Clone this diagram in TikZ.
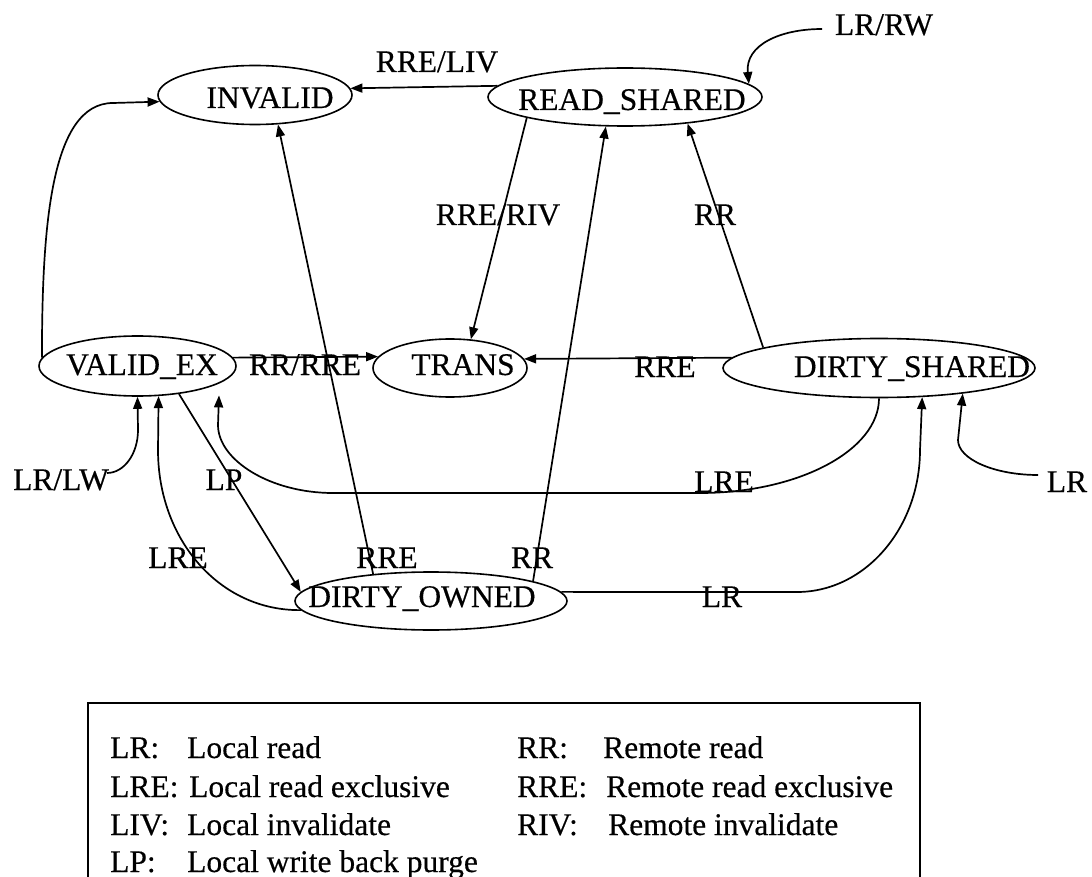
\documentclass[tikz,border=0pt]{standalone}
\usepackage{fontspec}
\setmainfont{Liberation Serif}[FakeBold=0.4]
\usetikzlibrary{shapes.geometric,arrows.meta}
\begin{document}
\begin{tikzpicture}[x=1pt,y=-1pt,
  state/.style={draw, ellipse, line width=1.6pt, inner sep=0pt},
  txt/.style={inner sep=0pt, anchor=base, font=\fontsize{31.5}{38}\selectfont},
  lgd/.style={inner sep=0pt, anchor=base west, font=\fontsize{31.5}{38}\selectfont},
  edge/.style={line width=1.7pt, -{Triangle[length=12pt,width=9pt]}},
]
\useasboundingbox (0,0) rectangle (1092,877);
\fill[white] (0,0) rectangle (1092,877);

% states
\node[state, minimum width=194pt, minimum height=59pt] (inv) at (255,95) {};
\node[state, minimum width=274pt, minimum height=58pt] (rs)  at (625,97) {};
\node[state, minimum width=197pt, minimum height=60pt] (ve)  at (137.5,366) {};
\node[state, minimum width=154pt, minimum height=58pt] (tr)  at (450,368) {};
\node[state, minimum width=312pt, minimum height=59pt] (ds)  at (879,368) {};
\node[state, minimum width=272pt, minimum height=58pt] (dow) at (431,601) {};

\node[txt] (invt) at (270,108) {INVALID};
\node[txt] (rst)  at (632,110) {READ\_SHARED};
\node[txt] (vet)  at (142,375) {VALID\_EX};
\node[txt] (trt)  at (463,375) {TRANS};
\node[txt] (dst)  at (912,377) {DIRTY\_SHARED};
\node[txt] (dowt) at (422,607) {DIRTY\_OWNED};

% transition labels
\node[txt] (l1)  at (437,72)   {RRE/LIV};
\node[txt] (l2)  at (884,35)   {LR/RW};
\node[txt] (l3)  at (305,375)  {RR/RRE};
\node[txt] (l4)  at (665,377)  {RRE};
\node[txt] (l5)  at (498,225)  {RRE/RIV};
\node[txt] (l6)  at (715,225)  {RR};
\node[txt] (l7)  at (61,490)   {LR/LW};
\node[txt] (l8)  at (224,490)  {LP};
\node[txt] (l9)  at (178,568)  {LRE};
\node[txt] (l10) at (387,568)  {RRE};
\node[txt] (l11) at (532,568)  {RR};
\node[txt] (l12) at (724,492)  {LRE};
\node[txt] (l13) at (722,607)  {LR};
\node[txt] (l14) at (1067,492) {LR};

% free ends of the external transitions
\coordinate (rwfoot) at (822,29);
\coordinate (lwfoot) at (107,473);
\coordinate (lrfoot) at (1038,475);

% transitions
\draw[edge] (rs.175.6) -- (inv.4.9);
\draw[edge] (rwfoot) .. controls (780,29) and (745,45) .. (rs.6.7);
\draw[edge] (ve.175.6) .. controls (42,230) and (50,103) .. (113,103) -- (inv.184.9);
\draw[edge] (ve.5.5) -- (tr.171.2);
\draw[edge] (ds.176.5) -- (tr.7);
\draw[edge] (rs.192.4) -- (tr.54.5);
\draw[edge] (dow.155.7) -- (inv.-52.5);
\draw[edge] (dow.11.8) -- (rs.-123.5);
\draw[edge] (ds.170.4) -- (rs.-23.5);
\draw[edge] (ve.-34) -- (dow.176.6);
\draw[edge] (lwfoot) .. controls (124,473) and (138,454) .. (138,430) -- (ve.south);
\draw[edge] (dow.184.5) .. controls (219,611) and (158,539) .. (158,450) -- (ve.-55);
\draw[edge, shorten >=12pt] (ds.-90) .. controls (879,450) and (799,493) .. (700,493)
  -- (333,493) .. controls (270,493) and (218,460) .. (218,425) -- (ve.-12.1);
\draw[edge] (dow.4) -- (797,592) .. controls (865,592) and (920,528) .. (920,450) -- (ds.-34.8);
\draw[edge] (lrfoot) .. controls (994,475) and (958,459) .. (958,440) -- (ds.-17.8);

% legend
\draw[line width=1.5pt] (88,885) -- (88,703) -- (920,703) -- (920,885);
\node[lgd] (k1) at (110,758) {LR:};
\node[lgd] (d1) at (187,758) {Local read};
\node[lgd] (k2) at (110,797) {LRE:};
\node[lgd] (d2) at (189,797) {Local read exclusive};
\node[lgd] (k3) at (110,835) {LIV:};
\node[lgd] (d3) at (187,835) {Local invalidate};
\node[lgd] (k4) at (110,872) {LP:};
\node[lgd] (d4) at (187,872) {Local write back purge};
\node[lgd] (k5) at (517,758) {RR:};
\node[lgd] (d5) at (603,758) {Remote read};
\node[lgd] (k6) at (517,797) {RRE:};
\node[lgd] (d6) at (606,797) {Remote read exclusive};
\node[lgd] (k7) at (517,835) {RIV:};
\node[lgd] (d7) at (608,835) {Remote invalidate};
\end{tikzpicture}
\end{document}
